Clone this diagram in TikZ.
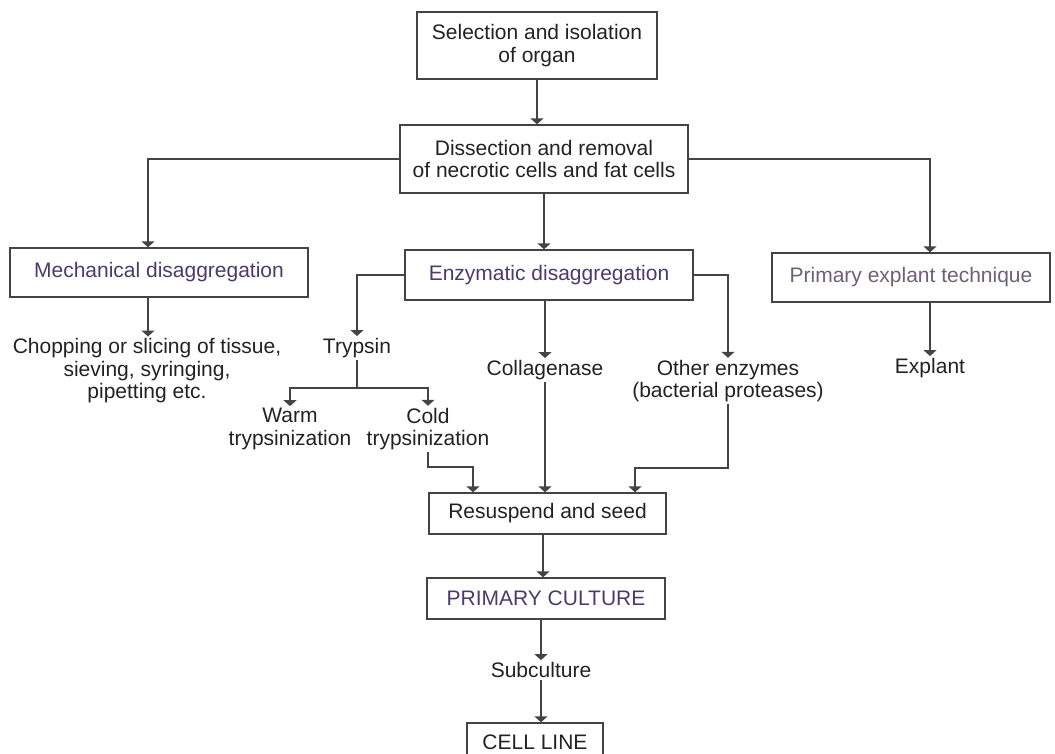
\documentclass[tikz,border=0pt]{standalone}
\usepackage{fontspec}
\setmainfont{Liberation Sans}
\usetikzlibrary{arrows.meta}
\definecolor{ink}{HTML}{222222}
\definecolor{boxline}{HTML}{444444}
\definecolor{purp}{HTML}{4B3A6E}
\definecolor{purpl}{HTML}{6E6078}
\begin{document}
\begin{tikzpicture}[x=1pt,y=-1pt,
  font=\fontsize{21}{22.5}\selectfont,
  box/.style={draw=boxline,line width=1.4pt,inner sep=0pt,align=center,text=ink},
  lbl/.style={inner sep=2pt,align=center,text=ink},
  arr/.style={draw=boxline,line width=1.4pt,-{Triangle[width=13pt,length=6pt]}},
  ln/.style={draw=boxline,line width=1.4pt}]
\useasboundingbox (0,0) rectangle (1055,753);
% boxes
\node[box,minimum width=240pt,minimum height=67pt] (b1) at (537,45.5) {Selection and isolation\\of organ};
\node[box,minimum width=288pt,minimum height=68pt] (b2) at (544,159) {Dissection and removal\\of necrotic cells and fat cells};
\node[box,minimum width=298pt,minimum height=49pt,text=purp] (mech) at (159,272.5) {Mechanical disaggregation};
\node[box,minimum width=288pt,minimum height=50pt,text=purp] (enz) at (549,275) {Enzymatic disaggregation};
\node[box,minimum width=278pt,minimum height=49pt,text=purpl] (expl) at (911,277.5) {Primary explant technique};
\node[box,minimum width=237pt,minimum height=41pt] (res) at (547.5,513.5) {Resuspend and seed};
\node[box,minimum width=238pt,minimum height=41pt,text=purp] (pc) at (546,598.5) {PRIMARY CULTURE};
\node[box,minimum width=136pt,minimum height=48pt] (cell) at (535,747) {};
\node[lbl] (celltxt) at (535,742) {CELL LINE};
% labels
\node[lbl] (chop) at (147,371) {Chopping or slicing of tissue,\\sieving, syringing,\\pipetting etc.};
\node[lbl] (tryp) at (357,348) {Trypsin};
\node[lbl] (coll) at (545,370) {Collagenase};
\node[lbl] (oth) at (728,381) {Other enzymes\\(bacterial proteases)};
\node[lbl] (expt) at (930,368) {Explant};
\node[lbl] (warm) at (290,429) {Warm\\trypsinization};
\node[lbl] (cold) at (428,429) {Cold\\trypsinization};
\node[lbl] (sub) at (541,670) {Subculture};
% connectors
\draw[arr] (b1.south) -- (b1.south |- b2.north);
\draw[arr] (b2.west) -| ([xshift=-11pt]mech.north);
\draw[arr] (b2.east) -| ([xshift=19pt]expl.north);
\draw[arr] (b2.south) -- (b2.south |- enz.north);
\draw[arr] ([xshift=-11pt]mech.south) -- ([xshift=-11pt]mech.south |- chop.north);
\draw[arr] (enz.west) -| (tryp.north);
\draw[arr] (enz.south -| coll.north) -- (coll.north);
\draw[arr] (enz.east) -| (oth.north);
\draw[arr] (expl.south -| expt.north) -- (expt.north);
\coordinate (tb) at (357,388);
\draw[ln] (tryp.south) -- (tb);
\draw[arr] (tb) -| (warm.north);
\draw[arr] (tb) -| (cold.north);
\coordinate (c1) at (473,467);
\draw[arr] (cold.south) |- (c1) -- (c1 |- res.north);
\draw[arr] (coll.south) -- (coll.south |- res.north);
\coordinate (o1) at (635,468);
\draw[arr] (oth.south) |- (o1) -- (o1 |- res.north);
\draw[arr] ([xshift=-4.5pt]res.south) -- ([xshift=-4.5pt]res.south |- pc.north);
\draw[arr] (pc.south -| sub.north) -- (sub.north);
\draw[arr] (sub.south) -- (sub.south |- cell.north);
\end{tikzpicture}
\end{document}
